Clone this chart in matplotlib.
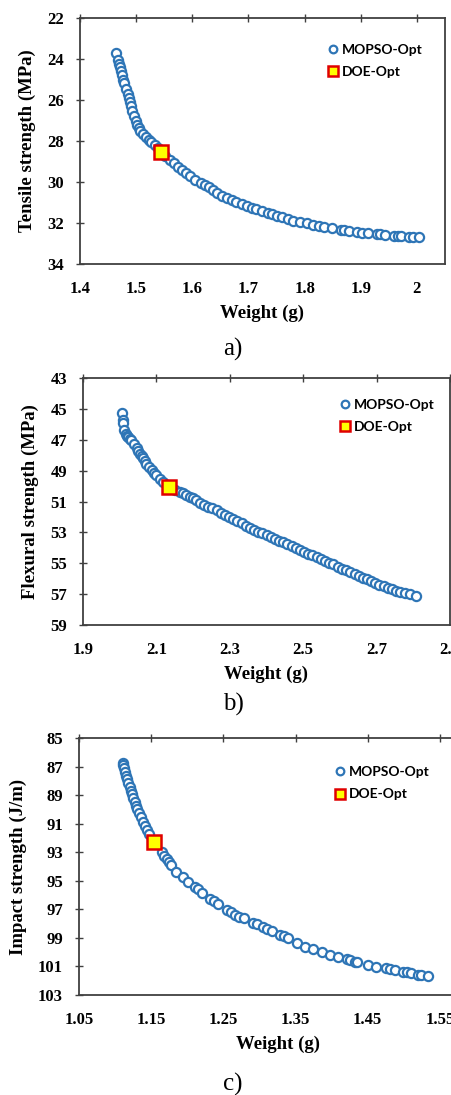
import matplotlib
matplotlib.use("Agg")
import matplotlib.pyplot as plt

# a) tensile strength vs weight
w_a = [1.464, 1.468, 1.470, 1.471, 1.473, 1.475, 1.477, 1.479, 1.482, 1.485, 1.487, 1.489,
       1.491, 1.493, 1.496, 1.499, 1.502, 1.505, 1.507, 1.512, 1.517, 1.522, 1.527, 1.533,
       1.539, 1.552, 1.560, 1.567, 1.574, 1.581, 1.588, 1.595, 1.605, 1.615, 1.622, 1.629,
       1.637, 1.644, 1.653, 1.662, 1.670, 1.677, 1.688, 1.698, 1.706, 1.713, 1.724, 1.735,
       1.742, 1.750, 1.760, 1.770, 1.780, 1.792, 1.804, 1.815, 1.825, 1.834, 1.849, 1.864,
       1.871, 1.879, 1.894, 1.903, 1.912, 1.929, 1.935, 1.944, 1.959, 1.966, 1.971, 1.986,
       1.993, 2.003]
t_a = [23.72, 24.05, 24.25, 24.40, 24.60, 24.80, 25.00, 25.19, 25.45, 25.70, 25.90, 26.08,
       26.30, 26.55, 26.80, 27.00, 27.20, 27.38, 27.50, 27.65, 27.80, 27.95, 28.05, 28.20,
       28.35, 28.75, 28.95, 29.09, 29.25, 29.40, 29.55, 29.70, 29.90, 30.05, 30.15, 30.26,
       30.40, 30.52, 30.66, 30.80, 30.88, 30.96, 31.07, 31.17, 31.25, 31.33, 31.42, 31.50,
       31.58, 31.66, 31.72, 31.80, 31.88, 31.95, 32.00, 32.08, 32.14, 32.20, 32.26, 32.34,
       32.36, 32.39, 32.46, 32.48, 32.50, 32.53, 32.55, 32.58, 32.62, 32.63, 32.63, 32.68,
       32.69, 32.70]
doe_a = (1.545, 28.52)

# b) flexural strength vs weight
w_b = [2.005, 2.008, 2.010, 2.013, 2.017, 2.020, 2.023, 2.027, 2.030, 2.038, 2.046, 2.050,
       2.055, 2.060, 2.064, 2.068, 2.073, 2.080, 2.087, 2.093, 2.100, 2.109, 2.118, 2.150,
       2.164, 2.173, 2.182, 2.191, 2.200, 2.209, 2.218, 2.230, 2.241, 2.252, 2.264, 2.275,
       2.287, 2.298, 2.309, 2.320, 2.332, 2.343, 2.355, 2.366, 2.378, 2.389, 2.400, 2.412,
       2.423, 2.435, 2.446, 2.457, 2.469, 2.480, 2.491, 2.503, 2.514, 2.525, 2.537, 2.548,
       2.560, 2.571, 2.582, 2.594, 2.605, 2.616, 2.628, 2.640, 2.651, 2.662, 2.673, 2.685,
       2.696, 2.707, 2.719, 2.730, 2.742, 2.753, 2.765, 2.778, 2.792, 2.806]
f_b = [45.29, 45.70, 45.93, 46.40, 46.60, 46.75, 46.80, 46.95, 47.00, 47.30, 47.55, 47.70,
       47.90, 48.05, 48.20, 48.35, 48.55, 48.75, 48.98, 49.15, 49.30, 49.55, 49.75, 50.25,
       50.36, 50.47, 50.58, 50.70, 50.80, 50.93, 51.07, 51.20, 51.34, 51.45, 51.55, 51.72,
       51.88, 52.02, 52.15, 52.28, 52.41, 52.57, 52.73, 52.84, 52.95, 53.05, 53.16, 53.30,
       53.44, 53.55, 53.65, 53.78, 53.90, 54.03, 54.16, 54.27, 54.37, 54.48, 54.59, 54.73,
       54.87, 54.98, 55.08, 55.22, 55.36, 55.46, 55.56, 55.70, 55.84, 55.93, 56.01, 56.14,
       56.27, 56.38, 56.49, 56.60, 56.70, 56.79, 56.88, 56.92, 56.96, 57.09]
doe_b = (2.134, 50.04)

# c) impact strength vs weight
w_c = [1.1105, 1.111, 1.112, 1.1135, 1.115, 1.1165, 1.118, 1.120, 1.1216, 1.123, 1.125,
       1.127, 1.129, 1.131, 1.1335, 1.136, 1.138, 1.141, 1.144, 1.147, 1.1645, 1.168,
       1.172, 1.175, 1.178, 1.185, 1.1936, 1.2015, 1.2107, 1.215, 1.220, 1.2314, 1.237,
       1.243, 1.2545, 1.260, 1.266, 1.272, 1.278, 1.2914, 1.297, 1.305, 1.311, 1.317,
       1.328, 1.334, 1.340, 1.3515, 1.363, 1.3745, 1.386, 1.3976, 1.409, 1.4207, 1.426,
       1.432, 1.435, 1.4507, 1.462, 1.476, 1.481, 1.4875, 1.499, 1.505, 1.510, 1.519,
       1.524, 1.5338]
i_c = [86.77, 86.90, 87.10, 87.40, 87.66, 87.90, 88.17, 88.45, 88.69, 88.95, 89.22,
       89.50, 89.76, 90.00, 90.27, 90.55, 90.86, 91.15, 91.44, 91.70, 92.96, 93.25,
       93.50, 93.70, 93.90, 94.37, 94.71, 95.06, 95.41, 95.60, 95.83, 96.27, 96.45,
       96.63, 97.05, 97.22, 97.39, 97.52, 97.63, 97.93, 98.05, 98.21, 98.35, 98.49,
       98.80, 98.90, 99.03, 99.34, 99.62, 99.80, 99.97, 100.20, 100.36, 100.50, 100.58,
       100.66, 100.70, 100.90, 101.01, 101.13, 101.18, 101.25, 101.37, 101.42, 101.48,
       101.60, 101.63, 101.66]
doe_c = (1.154, 92.26)

W, H = 452, 1095
BLUE = "#2E75B6"
SPINE = "#404040"
serif = "Liberation Serif"

fig = plt.figure(figsize=(W / 100, H / 100), dpi=100)


def px_axes(left, right, top, bottom):
    return fig.add_axes([left / W, 1 - bottom / H, (right - left) / W, (bottom - top) / H])


def panel(ax, x, y, doe, xlim, xticks, ylim, yticks, ylabel, leg_xy):
    ax.plot(x, y, linestyle="none", marker="o", ms=6.6, mfc="white", mec=BLUE, mew=1.6,
            label="MOPSO-Opt")
    ax.plot([doe[0]], [doe[1]], linestyle="none", marker="s", ms=10, mfc="#FFFF00",
            mec="#E00000", mew=1.8, label="DOE-Opt")
    ax.set_xlim(*xlim)
    ax.set_ylim(ylim[1], ylim[0])
    ax.set_xticks(xticks)
    ax.set_yticks(yticks)
    ax.set_xticklabels([f"{v:g}" for v in xticks])
    ax.tick_params(axis="x", top=True, bottom=False, labeltop=False, labelbottom=True,
                   direction="inout", length=6, width=1, color=SPINE, pad=9)
    ax.tick_params(axis="y", direction="inout", length=6, width=1, color=SPINE, pad=8.5)
    for lab in ax.get_xticklabels() + ax.get_yticklabels():
        lab.set_fontfamily(serif)
        lab.set_fontweight("bold")
        lab.set_fontsize(12)
    for s in ax.spines.values():
        s.set_color(SPINE)
        s.set_linewidth(1.3)
    ax.set_xlabel("Weight (g)", fontfamily=serif, fontweight="bold", fontsize=13.5, labelpad=6)
    ax.set_ylabel(ylabel, fontfamily=serif, fontweight="bold", fontsize=13.5, labelpad=8)
    leg = ax.legend(loc="upper left", bbox_to_anchor=leg_xy, bbox_transform=fig.transFigure,
                    frameon=False, handlelength=0.6, handletextpad=0.3, borderpad=0,
                    labelspacing=0.75, prop={"family": "Lato", "weight": "bold", "size": 10})
    h = leg.legend_handles
    h[0].set_markersize(5.5)
    h[1].set_markersize(7.5)
    return leg


ax_a = px_axes(80, 445, 18, 264)
panel(ax_a, w_a, t_a, doe_a, (1.4, 2.05), [1.4, 1.5, 1.6, 1.7, 1.8, 1.9, 2.0],
      (22, 34), [22, 24, 26, 28, 30, 32, 34], "Tensile strength (MPa)",
      (322 / W, 1 - 37 / H))

ax_b = px_axes(83, 450, 378, 625)
panel(ax_b, w_b, f_b, doe_b, (1.9, 2.9), [1.9, 2.1, 2.3, 2.5, 2.7, 2.9],
      (43, 59), [43, 45, 47, 49, 51, 53, 55, 57, 59], "Flexural strength (MPa)",
      (334 / W, 1 - 392 / H))

ax_c = px_axes(79, 476, 738, 995)
panel(ax_c, w_c, i_c, doe_c, (1.05, 1.6), [1.05, 1.15, 1.25, 1.35, 1.45, 1.55],
      (85, 103), [85, 87, 89, 91, 93, 95, 97, 99, 101, 103], "Impact strength (J/m)",
      (329 / W, 1 - 759 / H))

for lab, yy in [("a)", 349), ("b)", 704), ("c)", 1084)]:
    fig.text(233 / W, 1 - yy / H, lab, ha="center", va="center", fontfamily=serif,
             fontsize=18)

fig.savefig("out.png", dpi=100)
